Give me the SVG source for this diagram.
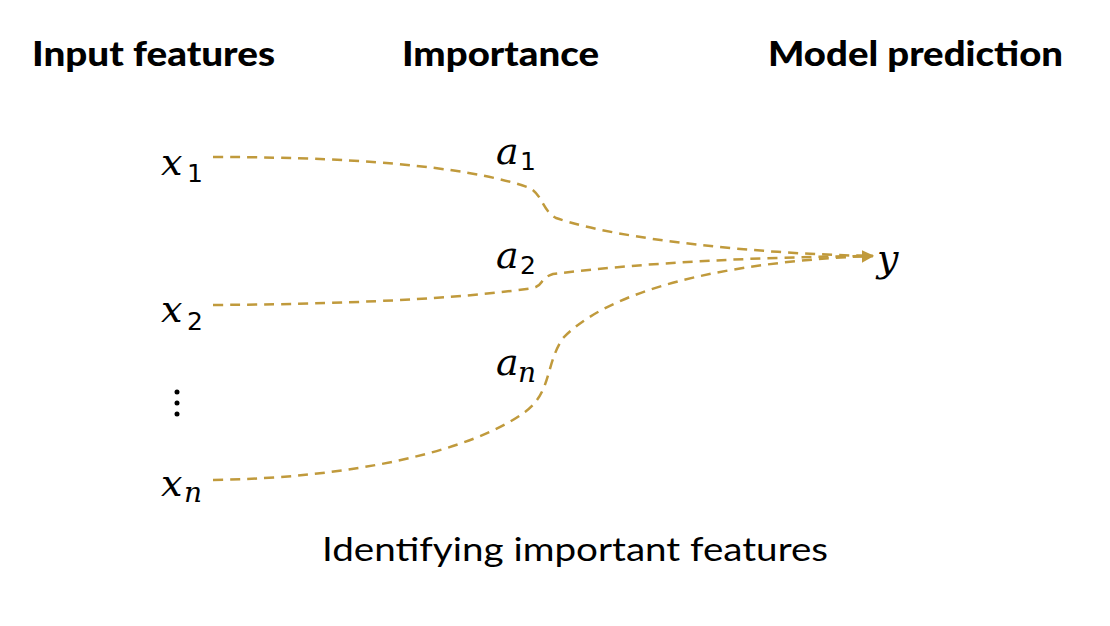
<svg xmlns="http://www.w3.org/2000/svg" width="1110" height="626" viewBox="0 0 1110 626">
<style>
.title{font-family:Lato,"Open Sans",sans-serif;font-weight:900;font-size:34px;fill:#000}
.cap{font-family:Lato,"Open Sans",sans-serif;font-size:33px;fill:#000}
.m{font-family:"DejaVu Serif","Liberation Serif",serif;font-style:italic;font-size:38px;fill:#000}
.s{font-family:"DejaVu Sans","Liberation Sans",sans-serif;font-size:25px;fill:#000}
.si{font-family:"DejaVu Serif","Liberation Serif",serif;font-style:italic;font-size:28px;fill:#000}
.c{fill:none;stroke:#C09A3C;stroke-width:2.5;stroke-dasharray:10,7}
</style>
<defs>
<marker id="ah" viewBox="0 0 10 10" refX="9" refY="5" markerWidth="5" markerHeight="5" orient="auto" markerUnits="strokeWidth">
<path d="M0,0 L10,5 L0,10 z" fill="#C09A3C"/>
</marker>
</defs>
<rect width="1110" height="626" fill="#fff"/>
<g id="titles">
<text class="title" x="32" y="66" textLength="243" lengthAdjust="spacingAndGlyphs">Input features</text>
<text class="title" x="402" y="66" textLength="197" lengthAdjust="spacingAndGlyphs">Importance</text>
<text class="title" x="768" y="66" textLength="295" lengthAdjust="spacingAndGlyphs">Model prediction</text>
</g>
<g id="connectors">
<path class="c" d="M213,157 C380,157 480,170 530,188 C543,196 542,210 556,218 C620,240 760,254 873,256"/>
<path class="c" d="M213,305 C380,304 480,296 533,288 C545,285 538,279 553,274 C650,262 760,257 873,256"/>
<path class="c" d="M213,480 C350,478 470,452 525,412 C552,392 545,365 563,338 C620,280 760,260 873,256" marker-end="url(#ah)"/>
</g>
<g id="x1"><text class="m" x="161" y="175">x</text><text class="s" x="187" y="182">1</text></g>
<g id="x2"><text class="m" x="161" y="322">x</text><text class="s" x="187" y="330">2</text></g>
<g id="dots"><circle cx="177" cy="392" r="2.5"/><circle cx="177" cy="403" r="2.5"/><circle cx="177" cy="414" r="2.5"/></g>
<g id="xn"><text class="m" x="161" y="496">x</text><text class="si" x="184" y="502">n</text></g>
<g id="a1"><text class="m" x="496" y="164">a</text><text class="s" x="520" y="170">1</text></g>
<g id="a2"><text class="m" x="496" y="268">a</text><text class="s" x="520" y="274">2</text></g>
<g id="an"><text class="m" x="496" y="375">a</text><text class="si" x="518" y="382">n</text></g>
<g id="y"><text class="m" x="877" y="271">y</text></g>
<g id="caption"><text class="cap" x="322" y="561" textLength="506" lengthAdjust="spacingAndGlyphs">Identifying important features</text></g>
</svg>
